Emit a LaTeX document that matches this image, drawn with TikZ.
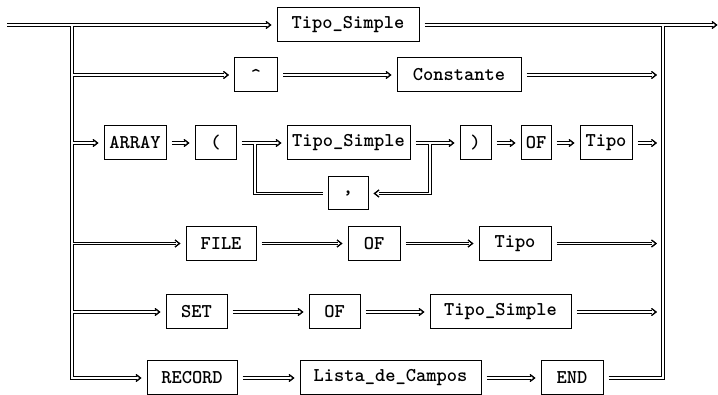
\documentclass[tikz,border=0pt]{standalone}
\usetikzlibrary{decorations.markings}
\tikzset{
  box/.style={draw, line width=1pt, minimum height=34pt, inner sep=0pt,
    font=\fontsize{19.5}{19.5}\selectfont\ttfamily\bfseries},
  chev/.style={draw=black, line width=1.1pt, shorten >=0pt, shorten <=0pt,
    line join=miter, line cap=butt},
  tip/.style={shorten >=#1+4pt, postaction={decorate, decoration={markings,
    mark=at position -#1 with {\draw[chev] (-4.5pt,3.5pt) -- (0pt,0pt) -- (-4.5pt,-3.5pt);}}}},
  tip/.default=6pt,
  frombox/.style={shorten <=5pt},
}
% every connector of the syntax chart; drawn twice (outer black, inner white)
% so that the double lines join cleanly at the rails
\newcommand\wiring{%
  % main line and rails
  \draw[wire, tip] (start) -- (ts1.west);
  \draw[wire, frombox, tip=0.5pt] (ts1.east) -- (out);
  \draw[wire, line join=miter, tip] (L1) -- (l6) -- (rec.west);
  \draw[wire, line join=miter, frombox] (endb.east) -- (r6) -- (R1);
  % pointer
  \draw[wire, tip] (l2) -- (caret.west);
  \draw[wire, frombox, tip] (caret.east) -- (con.west);
  \draw[wire, frombox, tip=7pt] (con.east) -- (r2);
  % array
  \draw[wire, tip] (l3) -- (arr.west);
  \draw[wire, frombox, tip] (arr.east) -- (lp.west);
  \draw[wire, frombox, tip] (lp.east) -- (ts2.west);
  \draw[wire, frombox, tip] (ts2.east) -- (rp.west);
  \draw[wire, line join=miter, tip] (j2) |- (comma.east);
  \draw[wire, line join=miter, frombox] (comma.west) -| (j1);
  \draw[wire, frombox, tip] (rp.east) -- (of3.west);
  \draw[wire, frombox, tip] (of3.east) -- (tipo3.west);
  \draw[wire, frombox, tip=7pt] (tipo3.east) -- (r3);
  % file
  \draw[wire, tip] (l4) -- (file.west);
  \draw[wire, frombox, tip] (file.east) -- (of4.west);
  \draw[wire, frombox, tip] (of4.east) -- (tipo4.west);
  \draw[wire, frombox, tip=7pt] (tipo4.east) -- (r4);
  % set
  \draw[wire, tip] (l5) -- (set.west);
  \draw[wire, frombox, tip] (set.east) -- (of5.west);
  \draw[wire, frombox, tip] (of5.east) -- (ts5.west);
  \draw[wire, frombox, tip=7pt] (ts5.east) -- (r5);
  % record
  \draw[wire, frombox, tip] (rec.east) -- (lista.west);
  \draw[wire, frombox, tip] (lista.east) -- (endb.west);
}
\begin{document}
\begin{tikzpicture}[x=1pt, y=-1pt]
  \useasboundingbox (0,0) rectangle (718,395);
  % boxes
  \node[box, minimum width=142pt] (ts1)   at (348,25)    {Tipo\_Simple};
  \node[box, minimum width=43pt]  (caret) at (256,75)    {\textasciicircum};
  \node[box, minimum width=124pt] (con)   at (459,75)    {Constante};
  \node[box, minimum width=62pt]  (arr)   at (135,143)   {ARRAY};
  \node[box, minimum width=41pt]  (lp)    at (215.5,143) {(};
  \node[box, minimum width=123pt] (ts2)   at (348.5,143) {Tipo\_Simple};
  \node[box, minimum width=31pt]  (rp)    at (475.5,143) {)};
  \node[box, minimum width=30pt]  (of3)   at (536,143)   {OF};
  \node[box, minimum width=52pt]  (tipo3) at (606,143)   {Tipo};
  \node[box, minimum width=40pt, minimum height=33pt] (comma) at (348,193.5) {,};
  \node[box, minimum width=70pt]  (file)  at (221,243.5) {FILE};
  \node[box, minimum width=52pt]  (of4)   at (374,243.5) {OF};
  \node[box, minimum width=72pt]  (tipo4) at (515,243.5) {Tipo};
  \node[box, minimum width=61pt]  (set)   at (196.5,312) {SET};
  \node[box, minimum width=51pt]  (of5)   at (334.5,312) {OF};
  \node[box, minimum width=141pt] (ts5)   at (500.5,312) {Tipo\_Simple};
  \node[box, minimum width=90pt]  (rec)   at (192,378)   {RECORD};
  \node[box, minimum width=181pt] (lista) at (390.5,378) {Lista\_de\_Campos};
  \node[box, minimum width=62pt]  (endb)  at (572,378)   {END};
  % rail points and free ends
  \coordinate (start) at (7,25);
  \coordinate (out)   at (717,25);
  \coordinate (L1) at (72,25);
  \coordinate (l2) at (72,75);
  \coordinate (l3) at (72,143);
  \coordinate (l4) at (72,243.5);
  \coordinate (l5) at (72,312);
  \coordinate (l6) at (72,378);
  \coordinate (R1) at (663,25);
  \coordinate (r2) at (663,75);
  \coordinate (r3) at (663,143);
  \coordinate (r4) at (663,243.5);
  \coordinate (r5) at (663,312);
  \coordinate (r6) at (663,378);
  \coordinate (j1) at (255,143);
  \coordinate (j2) at (430,143);
  % outer strokes, then inner strokes
  \begin{scope}[wire/.style={line width=3.4pt, draw=black}]
    \wiring
  \end{scope}
  \begin{scope}[wire/.style={line width=1.4pt, draw=white}]
    \wiring
  \end{scope}
\end{tikzpicture}
\end{document}
